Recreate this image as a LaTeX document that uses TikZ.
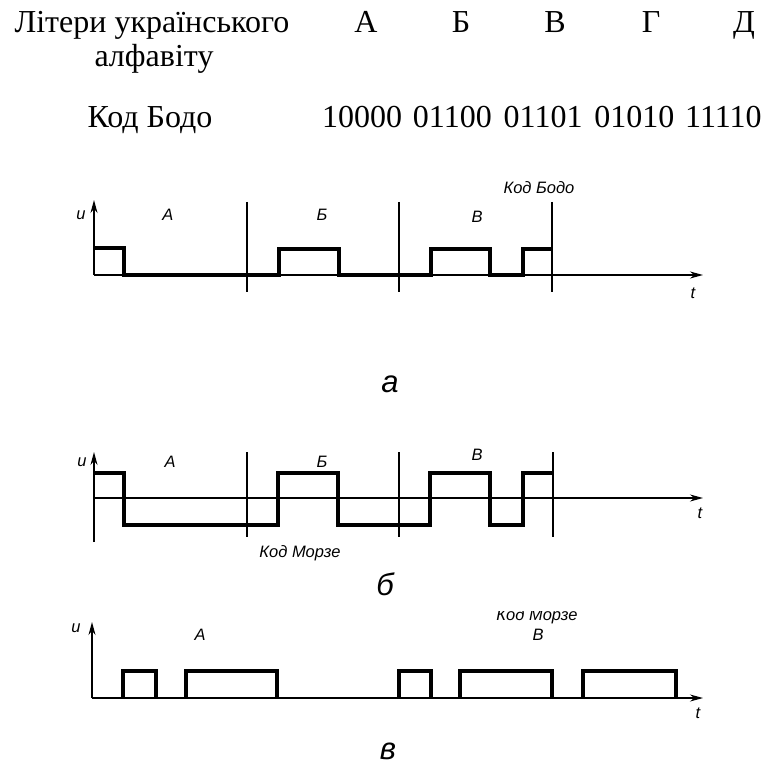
\documentclass[tikz,border=0pt]{standalone}
\usepackage{fontspec}
\setmainfont{Liberation Serif}
\newfontfamily\lsans{Liberation Sans}
\usetikzlibrary{arrows.meta}
\begin{document}
\begin{tikzpicture}[x=1pt,y=-1pt,
 ser/.style={font=\fontsize{32}{36}\selectfont, inner sep=0, anchor=base},
 lab/.style={font=\lsans\itshape\fontsize{16.5}{19}\selectfont, inner sep=0},
 big/.style={font=\lsans\itshape\fontsize{31}{34}\selectfont, inner sep=0},
 wave/.style={line width=3.2pt, line join=miter},
 thinline/.style={line width=1.3pt},
 axis/.style={line width=1.3pt, -{Stealth[length=13pt,width=7pt]}}]
\useasboundingbox (0,0) rectangle (770,767);
% header table
\node[ser] (l1) at (152,33) {Літери українського};
\node[ser] (l2) at (154,67) {алфавіту};
\node[ser] (lA) at (366,33) {А};
\node[ser] (lB) at (461,33) {Б};
\node[ser] (lV) at (555,33) {В};
\node[ser] (lG) at (651,33) {Г};
\node[ser] (lD) at (744,33) {Д};
\node[ser] (kb) at (150,128) {Код Бодо};
\node[ser, anchor=base west] (c1) at (322,128) {10000};
\node[ser, anchor=base west] (c2) at (412.75,128) {01100};
\node[ser, anchor=base west] (c3) at (503.5,128) {01101};
\node[ser, anchor=base west] (c4) at (594.25,128) {01010};
\node[ser, anchor=base west] (c5) at (685,128) {11110};

% diagram a
\coordinate (a0) at (94,275);
\coordinate (au) at (94,200);
\coordinate (at) at (703,275);
\draw[axis] (a0) -- (au);
\draw[axis] (a0) -- (at);
\draw[thinline] (247,202) -- (247,292);
\draw[thinline] (399,202) -- (399,292);
\draw[thinline] (552,202) -- (552,292);
\draw[wave] (94,248) -- (124,248) -- (124,275) -- (279,275) -- (279,249) -- (339,249) -- (339,275) -- (431,275) -- (431,249) -- (490,249) -- (490,275) -- (523,275) -- (523,249) -- (552,249);
\node[lab] (au_l) at (81,215) {u};
\node[lab] (aA) at (168,215) {А};
\node[lab] (aB) at (322,215) {Б};
\node[lab] (aV) at (477,217) {В};
\node[lab] (aK) at (539,188) {Код Бодо};
\node[lab] (at_l) at (693,293) {t};
\node[big] (ta) at (390,384) {а};

% diagram b
\coordinate (b0) at (94,542);
\coordinate (bu) at (94,452);
\coordinate (bs) at (94,498);
\coordinate (bt) at (703,498);
\draw[axis] (b0) -- (bu);
\draw[axis] (bs) -- (bt);
\draw[thinline] (247,452) -- (247,537);
\draw[thinline] (399,452) -- (399,537);
\draw[thinline] (553,452) -- (553,537);
\draw[wave] (94,473) -- (124,473) -- (124,525) -- (278,525) -- (278,473) -- (338,473) -- (338,525) -- (430,525) -- (430,473) -- (490,473) -- (490,525) -- (523,525) -- (523,473) -- (553,473);
\node[lab] (bu_l) at (82,462) {u};
\node[lab] (bA) at (170,462) {А};
\node[lab] (bB) at (322,462) {Б};
\node[lab] (bV) at (477,455) {В};
\node[lab] (bK) at (300,553) {Код Морзе};
\node[lab] (bt_l) at (700,513) {t};
\node[big] (tb) at (385,584) {б};

% diagram c
\coordinate (c0) at (92,698);
\coordinate (cu) at (92,622);
\coordinate (ct) at (703,698);
\draw[axis] (c0) -- (cu);
\draw[axis] (c0) -- (ct);
\draw[wave] (123,698) |- (156,671) -- (156,698);
\draw[wave] (186,698) |- (277,671) -- (277,698);
\draw[wave] (399,698) |- (431,671) -- (431,698);
\draw[wave] (460,698) |- (552,671) -- (552,698);
\draw[wave] (583,698) |- (676,671) -- (676,698);
\node[lab] (cu_l) at (76,628) {u};
\node[lab] (cA) at (200,635) {А};
\node[lab] (cV) at (538,635) {В};
\begin{scope}
\clip (0,611) rectangle (770,767);
\node[lab, anchor=base] (cK) at (537,620) {Код Морзе};
\end{scope}
\node[lab] (ct_l) at (698,713) {t};
\node[big] (tc) at (388,751) {в};
\end{tikzpicture}
\end{document}
